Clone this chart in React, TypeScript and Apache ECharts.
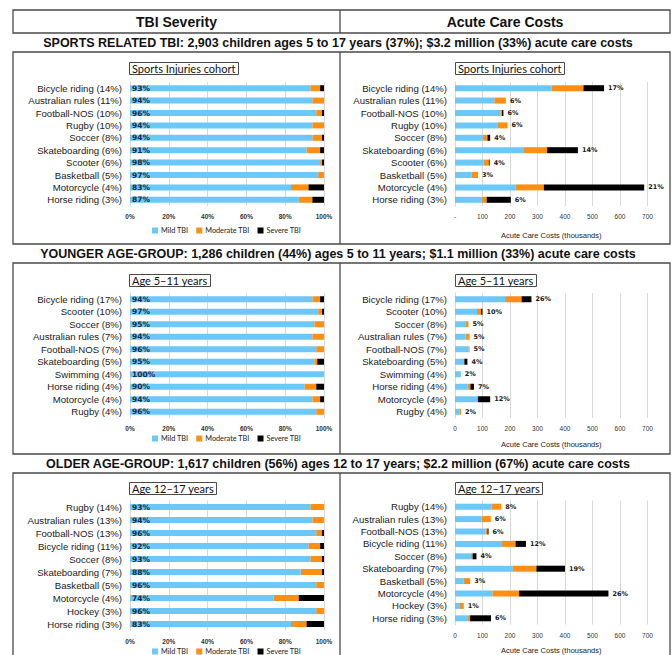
import React, { useEffect, useRef } from "react";
import * as echarts from "echarts";

// ---------- Texts ----------
const columnHeaders = ["TBI Severity", "Acute Care Costs"];
const sectionTitles = [
  "SPORTS RELATED TBI: 2,903 children ages 5 to 17 years (37%); $3.2 million (33%) acute care costs",
  "YOUNGER AGE-GROUP: 1,286 children (44%) ages 5 to 11 years; $1.1 million (33%) acute care costs",
  "OLDER AGE-GROUP: 1,617 children (56%) ages 12 to 17 years; $2.2 million (67%) acute care costs",
];
const panelTitles = ["Sports Injuries cohort", "Age 5\u201311 years", "Age 12\u201317 years"];
const severityNames = ["Mild TBI", "Moderate TBI", "Severe TBI"];
const costAxisName = "Acute Care Costs (thousands)";

// ---------- Sports related (all ages) ----------
const sportsCategories = [
  "Bicycle riding (14%)", "Australian rules (11%)", "Football-NOS (10%)", "Rugby (10%)", "Soccer (8%)",
  "Skateboarding (6%)", "Scooter (6%)", "Basketball (5%)", "Motorcycle (4%)", "Horse riding (3%)",
];
const sportsMildPct = [93, 94, 96, 94, 94, 91, 98, 97, 83, 87];
const sportsModeratePct = [5, 6, 3, 6, 5, 7, 1, 3, 9, 7];
const sportsSeverePct = [2, 0, 1, 0, 1, 2, 1, 0, 8, 6];
const sportsMildCost = [352, 143, 165, 156, 101, 248, 104, 61, 221, 96];
const sportsModerateCost = [115, 42, 6, 35, 17, 87, 19, 23, 102, 19];
const sportsSevereCost = [75, 0, 5, 0, 10, 112, 3, 0, 365, 88];
const sportsCostShare = ["17%", "6%", "6%", "6%", "4%", "14%", "4%", "3%", "21%", "6%"];

// ---------- Younger age group 5-11 ----------
const youngerCategories = [
  "Bicycle riding (17%)", "Scooter (10%)", "Soccer (8%)", "Australian rules (7%)", "Football-NOS (7%)",
  "Skateboarding (5%)", "Swimming (4%)", "Horse riding (4%)", "Motorcycle (4%)", "Rugby (4%)",
];
const youngerMildPct = [94, 97, 95, 94, 96, 95, 100, 90, 94, 96];
const youngerModeratePct = [4, 2, 5, 6, 4, 1.5, 0, 6, 4, 4];
const youngerSeverePct = [2, 1, 0, 0, 0, 3.5, 0, 4, 2, 0];
const youngerMildCost = [182, 80, 40, 39, 50, 30, 21, 46, 80, 16];
const youngerModerateCost = [60, 15, 9, 14, 3, 4, 0, 10, 4, 6];
const youngerSevereCost = [36, 5, 0, 0, 0, 11, 0, 13, 44, 0];
const youngerCostShare = ["26%", "10%", "5%", "5%", "5%", "4%", "2%", "7%", "12%", "2%"];

// ---------- Older age group 12-17 ----------
const olderCategories = [
  "Rugby (14%)", "Australian rules (13%)", "Football-NOS (13%)", "Bicycle riding (11%)", "Soccer (8%)",
  "Skateboarding (7%)", "Basketball (5%)", "Motorcycle (4%)", "Hockey (3%)", "Horse riding (3%)",
];
const olderMildPct = [93, 94, 96, 92, 93, 88, 96, 74, 96, 83];
const olderModeratePct = [7, 6, 3, 6, 6, 11, 4, 13, 4, 8];
const olderSeverePct = [0, 0, 1, 2, 1, 1, 0, 13, 0, 9];
const olderMildCost = [134, 97, 111, 168, 58, 210, 32, 136, 18, 47];
const olderModerateCost = [34, 33, 7, 52, 6, 86, 23, 97, 14, 8];
const olderSevereCost = [0, 0, 4, 38, 14, 104, 0, 325, 0, 76];
const olderCostShare = ["8%", "6%", "6%", "12%", "4%", "19%", "3%", "26%", "1%", "6%"];

// ---------- Tick settings ----------
const pctMax = 100;
const pctInterval = 20;
const costMax = 700;
const costInterval = 100;
const zeroCostLabels = ["-", "0", "0"];

const COLORS = ["#6CC8F8", "#FF8F12", "#000000"];
const BORDER = "#4a4a4a";

function buildOption() {
  const groups = [
    {
      cats: sportsCategories,
      pct: [sportsMildPct, sportsModeratePct, sportsSeverePct],
      cost: [sportsMildCost, sportsModerateCost, sportsSevereCost],
      share: sportsCostShare,
      top: 82, height: 124, titleTop: 62, nameGap: 25, legendTop: 227,
    },
    {
      cats: youngerCategories,
      pct: [youngerMildPct, youngerModeratePct, youngerSeverePct],
      cost: [youngerMildCost, youngerModerateCost, youngerSevereCost],
      share: youngerCostShare,
      top: 293, height: 125, titleTop: 274, nameGap: 22, legendTop: 435,
    },
    {
      cats: olderCategories,
      pct: [olderMildPct, olderModeratePct, olderSeverePct],
      cost: [olderMildCost, olderModerateCost, olderSevereCost],
      share: olderCostShare,
      top: 500.5, height: 130, titleTop: 482, nameGap: 21.5, legendTop: 648,
    },
  ];

  const grid: any[] = [];
  const xAxis: any[] = [];
  const yAxis: any[] = [];
  const series: any[] = [];
  const title: any[] = [];
  const legend: any[] = [];

  const catLabel = {
    interval: 0,
    fontSize: 9.6,
    color: "#1a1a1a",
    fontFamily: "Liberation Sans",
    margin: 8,
  };
  const splitLine = { show: true, lineStyle: { color: "#d9d9d9", width: 1 } };

  groups.forEach((g, i) => {
    const li = i * 2;
    const ri = i * 2 + 1;
    grid.push({ left: 130, top: g.top, width: 194, height: g.height });
    grid.push({ left: 455, top: g.top, width: 192.5, height: g.height });

    xAxis.push({
      gridIndex: li, type: "value", min: 0, max: pctMax, interval: pctInterval,
      axisLine: { show: false }, axisTick: { show: false }, splitLine,
      axisLabel: {
        formatter: "{value}%", fontSize: 6.5, color: "#333", fontWeight: "bold",
        fontFamily: "Liberation Sans", margin: 7,
      },
    });
    xAxis.push({
      gridIndex: ri, type: "value", min: 0, max: costMax, interval: costInterval,
      axisLine: { show: false }, axisTick: { show: false }, splitLine,
      axisLabel: {
        formatter: (v: number) => (v === 0 ? zeroCostLabels[i] : String(v)),
        fontSize: 6.5, color: "#333", fontFamily: "Liberation Sans", margin: 7,
      },
      name: costAxisName, nameLocation: "middle", nameGap: g.nameGap,
      nameTextStyle: { fontSize: 7.5, color: "#222", fontFamily: "Liberation Sans" },
    });

    [li, ri].forEach((idx) => {
      yAxis.push({
        gridIndex: idx, type: "category", data: g.cats, inverse: true,
        axisTick: { show: false },
        axisLine: { show: true, lineStyle: { color: "#d9d9d9" } },
        axisLabel: catLabel,
      });
    });

    severityNames.forEach((name, k) => {
      series.push({
        type: "bar", name, xAxisIndex: li, yAxisIndex: li, stack: "pct" + i,
        data: g.pct[k], barWidth: 6, itemStyle: { color: COLORS[k] },
        label: k === 0
          ? {
              show: true, position: "insideLeft", distance: 2,
              formatter: (p: any) => p.value + "%",
              fontSize: 7.5, fontWeight: "bold", fontFamily: "DejaVu Sans", color: "#1b2a44",
            }
          : { show: false },
      });
      series.push({
        type: "bar", name, xAxisIndex: ri, yAxisIndex: ri, stack: "cost" + i,
        data: g.cost[k], barWidth: 6, itemStyle: { color: COLORS[k] },
        label: k === 2
          ? {
              show: true, position: "right", distance: 4,
              formatter: (p: any) => g.share[p.dataIndex],
              fontSize: 6.5, fontWeight: "bold", fontFamily: "DejaVu Sans", color: "#1a1a1a",
            }
          : { show: false },
      });
    });

    [129, 455].forEach((x) => {
      title.push({
        text: panelTitles[i], left: x, top: g.titleTop,
        borderColor: BORDER, borderWidth: 1, padding: [1, 3],
        textStyle: { fontSize: 11, fontWeight: "normal", fontFamily: "Lato", color: "#111" },
      });
    });

    legend.push({
      left: 152, top: g.legendTop, padding: 0, itemWidth: 6, itemHeight: 6, itemGap: 8,
      icon: "rect", data: severityNames,
      textStyle: { fontSize: 7.3, color: "#222", fontFamily: "Lato", padding: [0, 0, 0, -2] },
    });
  });

  const graphic: any[] = [];
  const rect = (x: number, y: number, w: number, h: number) => ({
    type: "rect", shape: { x, y, width: w, height: h },
    style: { fill: "none", stroke: BORDER, lineWidth: 1.3 }, silent: true,
  });
  const vline = (x: number, y1: number, y2: number) => ({
    type: "line", shape: { x1: x, y1, x2: x, y2 },
    style: { stroke: BORDER, lineWidth: 1.3 }, silent: true,
  });
  const text = (t: string, x: number, y: number, size: number) => ({
    type: "text", x, y, silent: true,
    style: {
      text: t, fontSize: size, fontWeight: "bold", fontFamily: "Liberation Sans",
      fill: "#111", align: "center", verticalAlign: "middle",
    },
  });

  graphic.push(rect(13, 10, 657, 23), vline(340, 10, 33));
  graphic.push(text(columnHeaders[0], 176.5, 22, 14), text(columnHeaders[1], 505, 22, 14));
  const panels = [[52, 192], [263, 191], [473, 200]];
  const titleYs = [42.5, 253.5, 463.5];
  panels.forEach(([y, h], i) => {
    graphic.push(rect(13, y, 657, h), vline(340, y, y + h));
    graphic.push(text(sectionTitles[i], 338, titleYs[i], 12.5));
  });

  return {
    animation: false,
    backgroundColor: "#ffffff",
    grid, xAxis, yAxis, series, title, legend, graphic,
  };
}

export default function App() {
  const ref = useRef<HTMLDivElement>(null);
  useEffect(() => {
    if (!ref.current) return;
    const chart = echarts.init(ref.current, undefined, { renderer: "svg" });
    chart.setOption(buildOption() as any);
    return () => chart.dispose();
  }, []);
  return (
    <div
      ref={ref}
      style={{ position: "fixed", left: 0, top: 0, width: 672, height: 655, background: "#fff" }}
    />
  );
}
